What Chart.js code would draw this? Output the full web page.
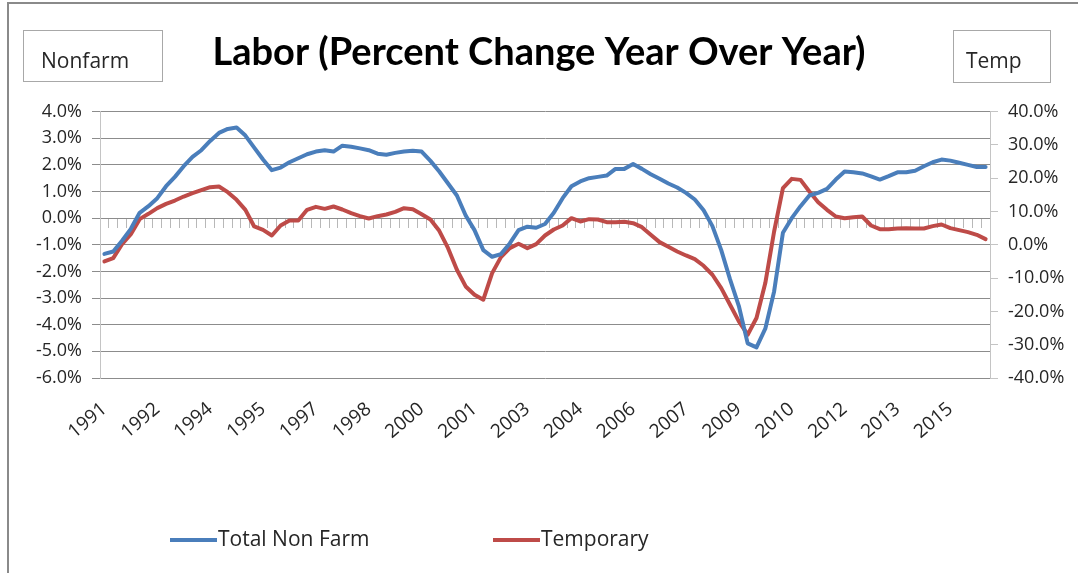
<!DOCTYPE html>
<html>
<head>
<meta charset="utf-8">
<title>Labor (Percent Change Year Over Year)</title>
<script src="https://cdn.jsdelivr.net/npm/chart.js@4.4.1/dist/chart.umd.min.js"></script>
<style>
  html, body { margin: 0; padding: 0; background: #fff; }
  #wrap { position: relative; width: 1078px; height: 573px; overflow: hidden; }
  #frame { position: absolute; left: 7px; top: 2px; right: -10px; bottom: -10px;
           border-top: 2px solid #8a8a8a; border-left: 2px solid #8a8a8a; }
  canvas { position: absolute; left: 0; top: 0; }
</style>
</head>
<body>
<div id="wrap">
  <canvas id="labor-chart" width="1078" height="573"></canvas>
  <div id="frame"></div>
</div>
<script>
/* ---- DATA (quarterly, 1991 Q1 - 2016 Q1) ---- */
const FIRST_YEAR = 1991;
const QUARTER_COUNT = 101;

// one label every 6 quarters, as on the original axis
const tickLabels = ['1991', '1992', '1994', '1995', '1997', '1998', '2000', '2001', '2003',
  '2004', '2006', '2007', '2009', '2010', '2012', '2013', '2015'];
const TICK_EVERY = 6;

// Total nonfarm payrolls, % change y/y (left axis)
const nonfarm = [
  -1.34, -1.25, -0.85, -0.40, 0.20, 0.45, 0.75, 1.20, 1.55, 1.95,
  2.30, 2.55, 2.90, 3.20, 3.35, 3.40, 3.10, 2.65, 2.20, 1.80,
  1.90, 2.10, 2.25, 2.40, 2.50, 2.55, 2.50, 2.72, 2.68, 2.62,
  2.55, 2.42, 2.38, 2.45, 2.50, 2.53, 2.50, 2.15, 1.75, 1.30,
  0.85, 0.10, -0.45, -1.20, -1.45, -1.35, -0.95, -0.45, -0.32, -0.36,
  -0.22, 0.20, 0.75, 1.20, 1.38, 1.50, 1.55, 1.60, 1.85, 1.85,
  2.03, 1.85, 1.65, 1.48, 1.30, 1.15, 0.95, 0.70, 0.30, -0.30,
  -1.20, -2.30, -3.30, -4.70, -4.85, -4.15, -2.75, -0.55, 0.00, 0.45,
  0.85, 0.95, 1.10, 1.45, 1.75, 1.72, 1.68, 1.57, 1.45, 1.58,
  1.72, 1.72, 1.78, 1.95, 2.10, 2.20, 2.16, 2.08, 2.00, 1.92,
  1.92,
];

// Temporary help services, % change y/y (right axis)
const temporary = [
  -5.0, -4.0, 0.2, 3.2, 7.7, 9.3, 11.0, 12.3, 13.3, 14.5,
  15.5, 16.4, 17.3, 17.5, 15.8, 13.5, 10.5, 5.5, 4.5, 2.8,
  5.8, 7.3, 7.3, 10.5, 11.4, 10.8, 11.5, 10.6, 9.5, 8.6,
  7.9, 8.6, 9.1, 9.9, 11.0, 10.7, 9.2, 7.6, 4.2, -1.0,
  -7.5, -12.5, -15.0, -16.5, -8.5, -3.7, -1.0, 0.3, -1.0, 0.2,
  2.8, 4.6, 5.8, 8.0, 7.0, 7.7, 7.6, 6.8, 6.8, 6.9,
  6.5, 5.3, 3.0, 0.8, -0.6, -2.0, -3.2, -4.3, -6.3, -9.0,
  -13.0, -18.0, -23.0, -27.0, -22.0, -11.5, 4.0, 17.0, 19.8, 19.5,
  16.0, 12.8, 10.5, 8.5, 8.0, 8.3, 8.5, 5.8, 4.7, 4.7,
  4.9, 5.0, 4.9, 4.9, 5.6, 6.1, 5.0, 4.4, 3.8, 3.0,
  1.7,
];

const quarters = [];
for (let i = 0; i < QUARTER_COUNT; i++) {
  quarters.push(`${FIRST_YEAR + Math.floor(i / 4)} Q${(i % 4) + 1}`);
}

/* ---- STYLE ---- */
const BLUE = '#4A7EBB';
const RED = '#BE4B48';
const GRID = '#8c8c8c';
const AXIS = '#c4c4c4';
const TEXT = '#262626';
const LABEL_FONT = { family: 'Open Sans', size: 18 };

// Excel-style extras: the two little caption boxes and the legend at the bottom
const excelDecor = {
  id: 'excelDecor',
  afterDraw(chart) {
    const ctx = chart.ctx;
    ctx.save();

    // caption boxes
    const boxes = [
      { text: 'Nonfarm', x: 23, y: 30, w: 139, h: 51, tx: 41 },
      { text: 'Temp', x: 953, y: 30, w: 97, h: 52, tx: 966 },
    ];
    ctx.font = '21px "Open Sans"';
    ctx.textBaseline = 'alphabetic';
    ctx.textAlign = 'left';
    boxes.forEach(b => {
      ctx.strokeStyle = '#a8a8a8';
      ctx.lineWidth = 1;
      ctx.strokeRect(b.x + 0.5, b.y + 0.5, b.w, b.h);
      ctx.fillStyle = TEXT;
      ctx.fillText(b.text, b.tx, 68);
    });

    // legend
    const legendX = [170, 493];
    const legendY = 540;
    ctx.font = '21px "Open Sans"';
    ctx.textBaseline = 'middle';
    chart.data.datasets.forEach((ds, i) => {
      const x = legendX[i];
      ctx.strokeStyle = ds.borderColor;
      ctx.lineWidth = 4;
      ctx.lineCap = 'butt';
      ctx.beginPath();
      ctx.moveTo(x, legendY);
      ctx.lineTo(x + 47, legendY);
      ctx.stroke();
      ctx.fillStyle = TEXT;
      ctx.fillText(ds.label, x + 48, legendY);
    });

    ctx.restore();
  },
};

const ctx = document.getElementById('labor-chart').getContext('2d');
new Chart(ctx, {
  type: 'line',
  data: {
    labels: quarters,
    datasets: [
      {
        label: 'Total Non Farm',
        data: nonfarm,
        xAxisID: 'x',
        yAxisID: 'y',
        borderColor: BLUE,
        backgroundColor: BLUE,
        borderWidth: 4,
        pointRadius: 0,
        tension: 0,
        borderJoinStyle: 'round',
        borderCapStyle: 'round',
      },
      {
        label: 'Temporary',
        data: temporary,
        xAxisID: 'x',
        yAxisID: 'y1',
        borderColor: RED,
        backgroundColor: RED,
        borderWidth: 4,
        pointRadius: 0,
        tension: 0,
        borderJoinStyle: 'round',
        borderCapStyle: 'round',
      },
    ],
  },
  plugins: [excelDecor],
  options: {
    responsive: false,
    animation: false,
    layout: { padding: 0 },
    plugins: {
      legend: { display: false },
      tooltip: { enabled: false },
      title: {
        display: true,
        text: 'Labor (Percent Change Year Over Year)',
        color: '#000',
        font: { family: 'Lato', weight: 'bold', size: 38 },
        padding: { top: 30, bottom: 36 },
      },
    },
    scales: {
      x: {
        type: 'category',
        offset: true,
        // tick marks hidden, but their length pushes the year labels down
        grid: { display: false, drawTicks: true, tickLength: 12 },
        border: { display: false },
        ticks: {
          autoSkip: false,
          minRotation: 40,
          maxRotation: 40,
          padding: 8,
          color: TEXT,
          font: { family: 'Open Sans', size: 19 },
          callback: (v, i) => (i % TICK_EVERY === 0 ? tickLabels[i / TICK_EVERY] : ''),
        },
        afterFit: s => { s.height = 195; },
      },
      // category axis crossing at 0% on the left scale (only its tick marks show)
      xZero: {
        type: 'category',
        axis: 'x',
        position: { y: 0 },
        offset: true,
        grid: { offset: true, drawOnChartArea: false, drawTicks: true, tickLength: 9, color: '#b8b8b8' },
        border: { display: true, color: GRID },
        ticks: { display: false, autoSkip: false },
      },
      y: {
        position: 'left',
        min: -6,
        max: 4,
        ticks: {
          stepSize: 1,
          padding: 10,
          color: TEXT,
          font: LABEL_FONT,
          callback: v => `${v.toFixed(1)}%`,
        },
        grid: { color: GRID, tickLength: 8 },
        border: { color: AXIS },
        afterFit: s => { s.width = 100; },
      },
      y1: {
        position: 'right',
        min: -40,
        max: 40,
        ticks: {
          stepSize: 10,
          padding: 10,
          color: TEXT,
          font: LABEL_FONT,
          callback: v => `${v.toFixed(1)}%`,
        },
        grid: { drawOnChartArea: false, tickLength: 8, color: AXIS },
        border: { color: AXIS },
        afterFit: s => { s.width = 88; },
      },
    },
  },
});
</script>
</body>
</html>
